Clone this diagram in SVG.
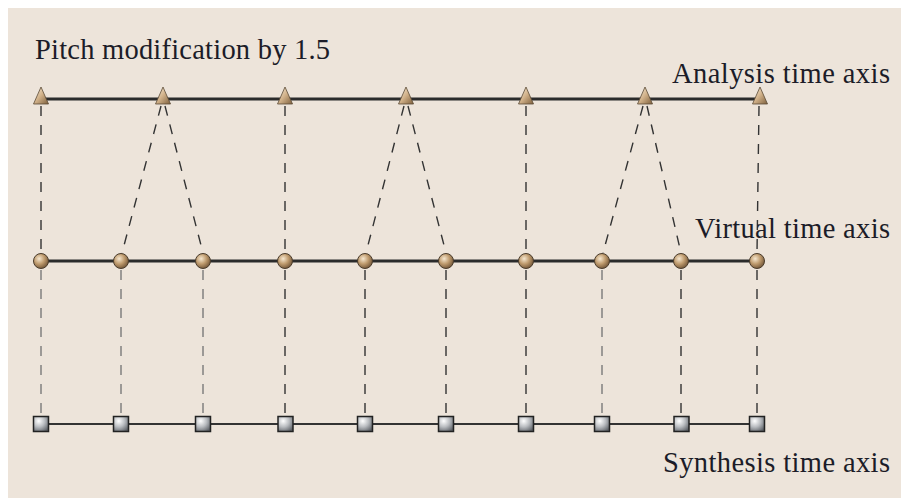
<svg xmlns="http://www.w3.org/2000/svg" width="901" height="498" viewBox="0 0 901 498">
<defs>
<style>
.lbl{font-family:"Liberation Serif","Times New Roman",serif;font-size:28.5px;fill:#1c1c28}
.axis{stroke:#2b2b2b;stroke-width:3;fill:none}
.axis2{stroke:#333;stroke-width:2.2;fill:none}
.dk{stroke:#333;stroke-width:1.4;stroke-dasharray:10 9;fill:none}
.gr{stroke:#7a7a7a;stroke-width:1.4;stroke-dasharray:10 9;fill:none}
.tri{fill:url(#gTri);stroke:#5a4a36;stroke-width:0.8}
.cir{fill:url(#gCir);stroke:#4a3c2c;stroke-width:1}
.sq{fill:url(#gSq);stroke:#222;stroke-width:1.5}
</style>
<linearGradient id="gTri" x1="0" y1="0" x2="1" y2="1">
<stop offset="0" stop-color="#fbf0dd"/>
<stop offset="0.5" stop-color="#d1b189"/>
<stop offset="1" stop-color="#7d5f3c"/>
</linearGradient>
<radialGradient id="gCir" cx="0.38" cy="0.35" r="0.7">
<stop offset="0" stop-color="#f6e7cf"/>
<stop offset="0.5" stop-color="#bf9b6e"/>
<stop offset="1" stop-color="#6e5235"/>
</radialGradient>
<radialGradient id="gSq" cx="0.35" cy="0.3" r="0.8">
<stop offset="0" stop-color="#ffffff"/>
<stop offset="0.5" stop-color="#b9bcc0"/>
<stop offset="1" stop-color="#5c6066"/>
</radialGradient>
<polygon id="triShape" points="0,-11 7.5,6 -7.5,6"/>
</defs>
<rect x="8" y="8" width="893" height="490" fill="#ede4da"/>

<g id="connectors">
<line class="dk" x1="41" y1="106" x2="41" y2="253"/>
<line class="dk" x1="161" y1="106" x2="122" y2="253"/>
<line class="dk" x1="165" y1="106" x2="203" y2="253"/>
<line class="dk" x1="285" y1="106" x2="285" y2="253"/>
<line class="dk" x1="404" y1="106" x2="366" y2="253"/>
<line class="dk" x1="408" y1="106" x2="446" y2="253"/>
<line class="dk" x1="526" y1="106" x2="526" y2="253"/>
<line class="dk" x1="643" y1="106" x2="603" y2="253"/>
<line class="dk" x1="647" y1="106" x2="681" y2="253"/>
<line class="dk" x1="759" y1="106" x2="757" y2="253"/>
<line class="gr" x1="41" y1="270" x2="41" y2="415"/>
<line class="gr" x1="121" y1="270" x2="121" y2="415"/>
<line class="gr" x1="203" y1="270" x2="203" y2="415"/>
<line class="dk" x1="285" y1="270" x2="285" y2="415"/>
<line class="dk" x1="365" y1="270" x2="365" y2="415"/>
<line class="dk" x1="446" y1="270" x2="446" y2="415"/>
<line class="dk" x1="526" y1="270" x2="526" y2="415"/>
<line class="gr" x1="602" y1="270" x2="602" y2="415"/>
<line class="dk" x1="681" y1="270" x2="681" y2="415"/>
<line class="dk" x1="757" y1="270" x2="757" y2="415"/>
</g>

<g id="analysis-axis">
<line class="axis" x1="41" y1="99" x2="760" y2="99"/>
<use href="#triShape" class="tri" x="41" y="98"/>
<use href="#triShape" class="tri" x="163" y="98"/>
<use href="#triShape" class="tri" x="285" y="98"/>
<use href="#triShape" class="tri" x="406" y="98"/>
<use href="#triShape" class="tri" x="526" y="98"/>
<use href="#triShape" class="tri" x="645" y="98"/>
<use href="#triShape" class="tri" x="760" y="98"/>
</g>

<g id="virtual-axis">
<line class="axis" x1="41" y1="261" x2="757" y2="261"/>
<circle class="cir" cx="41" cy="261" r="7.5"/>
<circle class="cir" cx="121" cy="261" r="7.5"/>
<circle class="cir" cx="203" cy="261" r="7.5"/>
<circle class="cir" cx="285" cy="261" r="7.5"/>
<circle class="cir" cx="365" cy="261" r="7.5"/>
<circle class="cir" cx="446" cy="261" r="7.5"/>
<circle class="cir" cx="526" cy="261" r="7.5"/>
<circle class="cir" cx="602" cy="261" r="7.5"/>
<circle class="cir" cx="681" cy="261" r="7.5"/>
<circle class="cir" cx="757" cy="261" r="7.5"/>
</g>

<g id="synthesis-axis">
<line class="axis2" x1="41" y1="424" x2="757" y2="424"/>
<rect class="sq" x="33.5" y="416.5" width="15" height="15"/>
<rect class="sq" x="113.5" y="416.5" width="15" height="15"/>
<rect class="sq" x="195.5" y="416.5" width="15" height="15"/>
<rect class="sq" x="278" y="416.5" width="15" height="15"/>
<rect class="sq" x="357.5" y="416.5" width="15" height="15"/>
<rect class="sq" x="438.5" y="416.5" width="15" height="15"/>
<rect class="sq" x="518.5" y="416.5" width="15" height="15"/>
<rect class="sq" x="594.5" y="416.5" width="15" height="15"/>
<rect class="sq" x="674" y="416.5" width="15" height="15"/>
<rect class="sq" x="749.5" y="416.5" width="15" height="15"/>
</g>

<g id="labels">
<text class="lbl" x="35" y="59" textLength="295" lengthAdjust="spacing">Pitch modification by 1.5</text>
<text class="lbl" x="672" y="83" textLength="218" lengthAdjust="spacing">Analysis time axis</text>
<text class="lbl" x="695" y="238" textLength="195" lengthAdjust="spacing">Virtual time axis</text>
<text class="lbl" x="663" y="472" textLength="227" lengthAdjust="spacing">Synthesis time axis</text>
</g>
</svg>
